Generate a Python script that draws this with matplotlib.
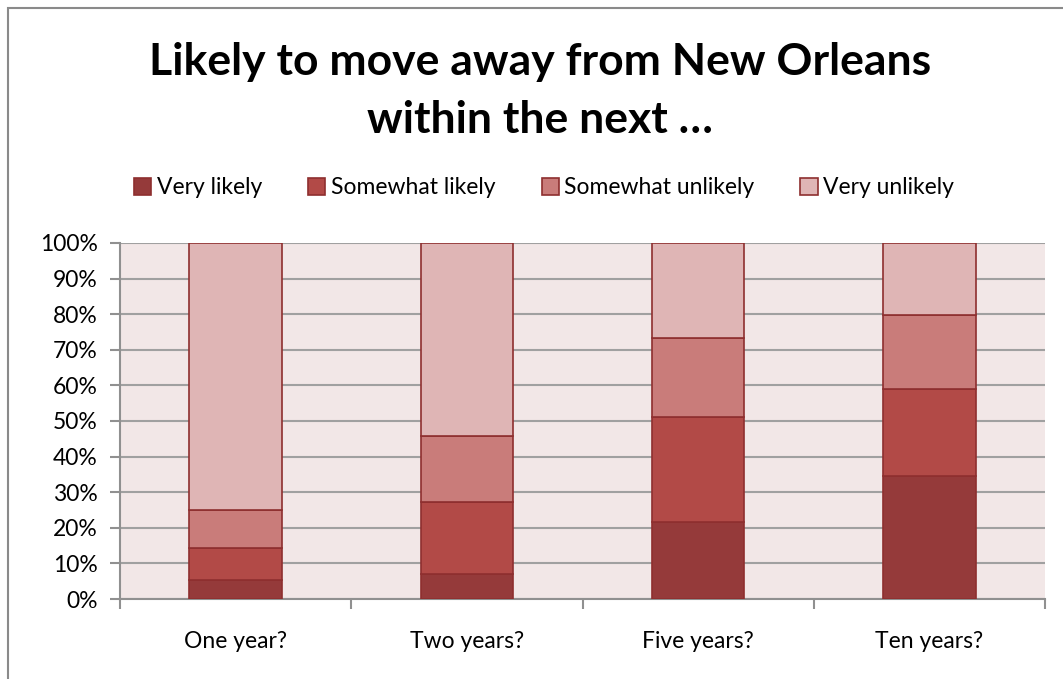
import matplotlib
matplotlib.use("Agg")
import matplotlib.pyplot as plt
from matplotlib.patches import Patch, Rectangle
import numpy as np

plt.rcParams["font.family"] = ["Lato", "DejaVu Sans"]

categories = ["One year?", "Two years?", "Five years?", "Ten years?"]
series = ["Very likely", "Somewhat likely", "Somewhat unlikely", "Very unlikely"]
# segment shares
very_likely = [0.054, 0.069, 0.216, 0.345]
somewhat_likely = [0.089, 0.203, 0.294, 0.245]
somewhat_unlikely = [0.108, 0.185, 0.224, 0.207]
very_unlikely = [0.749, 0.543, 0.266, 0.203]
colors = ["#953A3A", "#B24A47", "#C97C7A", "#DFB5B5"]
edge = "#8E2F2F"

fig = plt.figure(figsize=(10.63, 6.79), dpi=100)
ax = fig.add_axes([120 / 1063, 1 - 599 / 679, 925 / 1063, 356 / 679])
ax.set_facecolor("#F2E7E7")

x = np.arange(len(categories))
bottom = np.zeros(len(categories))
for vals, col, name in zip([very_likely, somewhat_likely, somewhat_unlikely, very_unlikely],
                           colors, series):
    ax.bar(x, vals, width=0.4, bottom=bottom, color=col, edgecolor=edge,
           linewidth=1.2, label=name, zorder=3)
    bottom += np.array(vals)

ax.set_xlim(-0.5, 3.5)
ax.set_ylim(0, 1)
ax.set_yticks(np.arange(0, 1.01, 0.1))
ax.set_yticklabels([f"{int(round(v * 100))}%" for v in np.arange(0, 1.01, 0.1)])
ax.yaxis.grid(True, color="#A0A0A0", lw=1.5, zorder=1)
ax.set_axisbelow(True)

ax.set_xticks(x)
ax.set_xticklabels(categories)
ax.set_xticks(np.arange(-0.5, 3.6, 1), minor=True)
ax.tick_params(axis="x", which="major", length=0, pad=23, labelsize=16.5)
ax.tick_params(axis="x", which="minor", length=7, width=1.5, color="#909090")
ax.tick_params(axis="y", length=7, width=1.5, color="#909090", labelsize=16.5, pad=9)

for s in ["top", "right"]:
    ax.spines[s].set_visible(False)
for s in ["left", "bottom"]:
    ax.spines[s].set_color("#909090")
    ax.spines[s].set_linewidth(1.5)

fig.text(0.508, 1 - 91 / 679, "Likely to move away from New Orleans\nwithin the next \u2026",
         ha="center", va="center", fontsize=32, fontweight="bold", linespacing=1.55)

handles = [Patch(facecolor=c, edgecolor=edge, linewidth=1.2) for c in colors]
fig.legend(handles, series, loc="center", bbox_to_anchor=(0.512, 1 - 188 / 679),
           ncol=4, frameon=False, fontsize=16.5, handlelength=0.75, handleheight=0.75,
           handletextpad=0.25, columnspacing=2.0)

fig.patches.append(Rectangle((8 / 1063, -0.1), 1.2, 1 - 8 / 679 + 0.1,
                             transform=fig.transFigure, fill=False,
                             edgecolor="#8A8A8A", lw=1.5))

fig.savefig("out.png", dpi=100, facecolor="white")
